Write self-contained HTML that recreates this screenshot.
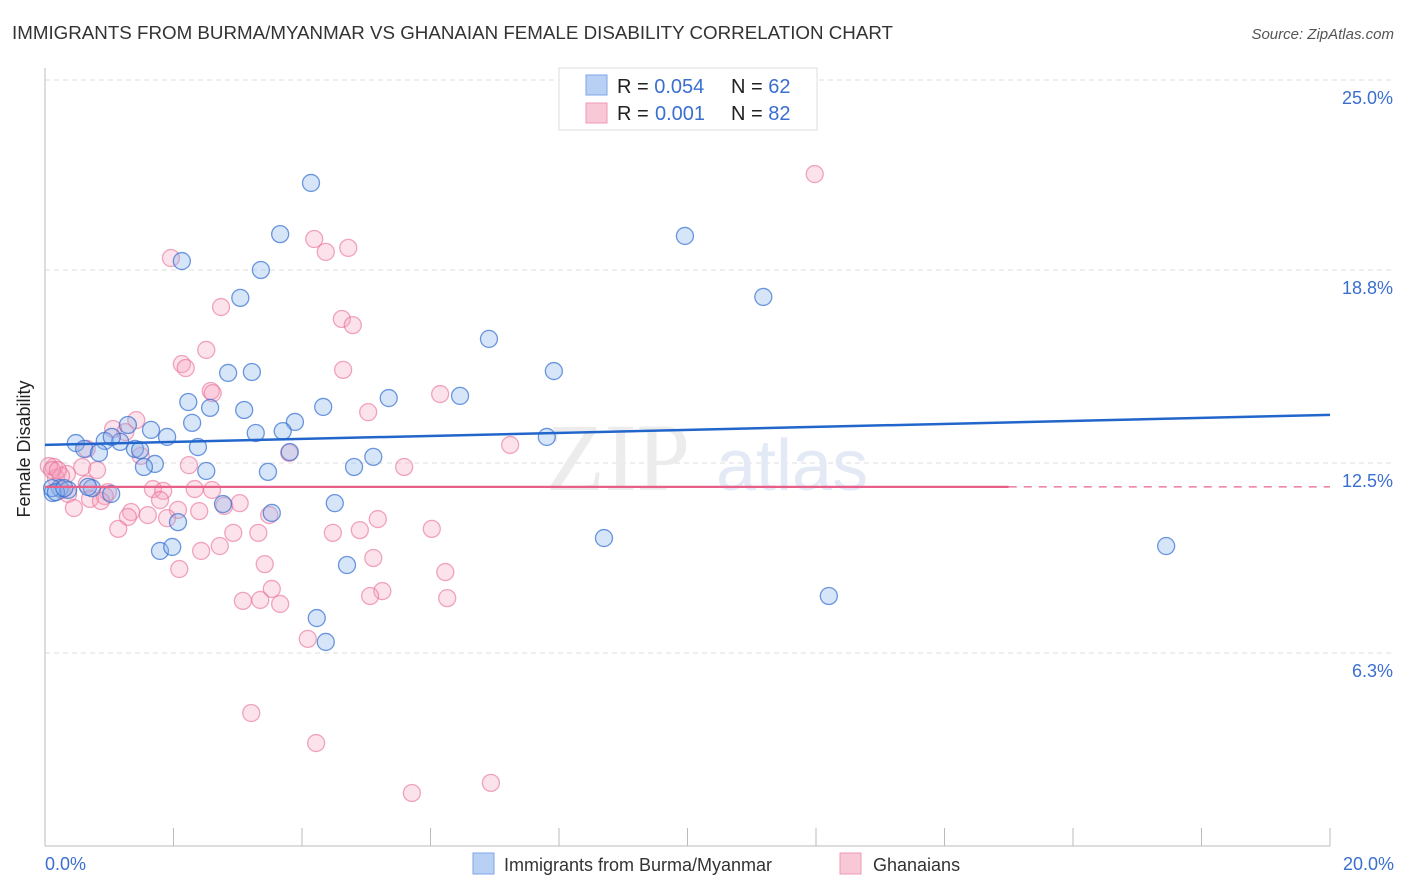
<!DOCTYPE html>
<html><head><meta charset="utf-8"><style>
body{margin:0;background:#fff;font-family:"Liberation Sans",sans-serif;}
svg{display:block}
</style></head><body>
<svg id="chart" width="1406" height="892">
<text x="12" y="39" font-size="18.5" textLength="881" lengthAdjust="spacingAndGlyphs" fill="#333">IMMIGRANTS FROM BURMA/MYANMAR VS GHANAIAN FEMALE DISABILITY CORRELATION CHART</text>
<text x="1394" y="39" font-size="15" fill="#555" font-style="italic" text-anchor="end">Source: ZipAtlas.com</text>
<g id="grid"></g>
<text x="690" y="490" font-size="96" fill="#ececec" text-anchor="end" font-family="Liberation Serif">ZIP</text>
<text x="716" y="490" font-size="72" fill="#e3eaf5">atlas</text>
<line x1="45" y1="68" x2="45" y2="846" stroke="#bbb"/>
<line x1="45" y1="846" x2="1330" y2="846" stroke="#bbb"/>
<g id="ticks"></g>
<text x="36" y="455" font-size="18" fill="#222" text-anchor="middle" transform="rotate(-90 30 455)">Female Disability</text>
<text x="45" y="870" font-size="18" fill="#3a6fd0">0.0%</text>
<text x="1394" y="870" font-size="18" fill="#3a6fd0" text-anchor="end">20.0%</text>
<g id="pts"></g>
<g id="trends"></g>
<g>
<rect x="559" y="68" width="258" height="62" fill="#fff" stroke="#ddd"/>
<rect x="586" y="75" width="21" height="20" fill="#b8d0f3" stroke="#7ea6e8"/>
<rect x="586" y="103" width="21" height="20" fill="#f9c8d6" stroke="#ef9ab4"/>
<text x="617" y="93" font-size="20" fill="#222">R = <tspan fill="#3a6fd0">0.054</tspan><tspan x="731">N = </tspan><tspan fill="#3a6fd0">62</tspan></text>
<text x="617" y="120" font-size="20" fill="#222">R = <tspan x="655" fill="#3a6fd0">0.001</tspan><tspan x="731">N = </tspan><tspan fill="#3a6fd0">82</tspan></text>
</g>
<g>
<rect x="473" y="853" width="21" height="21" fill="#b8d0f3" stroke="#7ea6e8"/>
<text x="504" y="871" font-size="18" fill="#333">Immigrants from Burma/Myanmar</text>
<rect x="840" y="853" width="21" height="21" fill="#f9c8d6" stroke="#ef9ab4"/>
<text x="873" y="871" font-size="18" fill="#333">Ghanaians</text>
</g>
</svg>
<script>
const yTicks=[25.0,18.8,12.5,6.3];
const yTickLabels=["25.0%","18.8%","12.5%","6.3%"];
const xTicks=[2,4,6,8,10,12,14,16,18,20];
const blueX=[4.14,3.66,9.96,2.13,3.36,11.18,3.04,6.91,7.92,2.85,3.22,5.35,6.46,2.23,2.57,3.10,4.33,3.89,2.29,1.29,1.65,3.70,3.28,1.90,7.81,0.93,0.48,1.17,2.38,0.61,0.84,1.40,3.81,5.11,1.71,1.54,4.81,2.51,3.47,0.73,0.23,0.36,0.12,1.03,2.77,4.51,3.53,2.07,8.70,17.45,1.79,1.98,4.70,12.20,4.23,4.37,0.11,0.17,0.30,0.67,1.48,1.04];
const blueY=[21.64,19.97,19.91,19.09,18.80,17.92,17.89,16.55,15.50,15.44,15.47,14.62,14.69,14.49,14.30,14.23,14.33,13.84,13.81,13.74,13.58,13.54,13.48,13.35,13.35,13.22,13.15,13.19,13.02,12.96,12.83,12.96,12.86,12.70,12.47,12.37,12.37,12.24,12.21,11.68,11.68,11.62,11.52,11.49,11.16,11.19,10.87,10.57,10.05,9.79,9.63,9.76,9.17,8.16,7.44,6.66,11.68,11.55,11.68,11.72,12.92,13.35];
const pinkX=[11.98,4.19,4.72,4.37,1.96,2.74,4.62,4.79,2.51,2.13,2.19,4.64,2.58,6.15,5.03,2.61,1.42,1.06,1.25,7.24,3.80,0.65,1.49,0.14,0.58,0.81,2.24,5.59,0.34,0.17,0.25,0.65,1.68,1.84,2.33,2.60,0.98,0.36,0.93,0.70,1.79,2.07,2.40,2.79,3.03,0.45,0.87,1.34,1.29,1.60,1.90,3.49,5.18,4.48,4.90,2.93,3.32,1.14,6.02,2.72,2.43,5.11,3.42,2.09,6.23,3.53,5.25,5.06,3.08,3.35,3.66,6.26,4.09,3.21,4.22,5.71,6.94,0.06,0.11,0.20,0.26];
const pinkY=[21.93,19.81,19.52,19.39,19.19,17.59,17.20,17.00,16.19,15.73,15.60,15.54,14.85,14.75,14.16,14.78,13.90,13.61,13.51,13.09,12.83,12.96,12.73,12.37,12.37,12.27,12.43,12.37,12.14,12.01,12.08,11.81,11.65,11.59,11.65,11.62,11.55,11.49,11.42,11.33,11.29,10.97,10.93,11.10,11.19,11.03,11.26,10.90,10.74,10.80,10.70,10.80,10.67,10.22,10.31,10.22,10.22,10.35,10.35,9.79,9.63,9.40,9.20,9.04,8.94,8.39,8.32,8.16,8.00,8.03,7.90,8.09,6.76,4.34,3.36,1.73,2.06,12.40,12.27,12.27,11.62];
const blueTrend=[13.09,14.07];
const pinkTrend=[11.72,11.72];
const pinkSolidEnd=15.0;
const NS="http://www.w3.org/2000/svg";
const sx=v=>45+v*64.25, sy=v=>846-v*30.64;
function mk(t,a,p){const e=document.createElementNS(NS,t);for(const k in a)e.setAttribute(k,a[k]);p.appendChild(e);return e;}
const grid=document.getElementById('grid');
yTicks.forEach((v,i)=>{
 const l=mk('line',{x1:45,x2:1394,y1:sy(v),y2:sy(v),stroke:'#ddd','stroke-dasharray':'5,4'},grid);
 
 
 const t=mk('text',{x:1393,y:sy(v)+24,'font-size':18,fill:'#3a6fd0','text-anchor':'end'},grid);
 t.textContent=yTickLabels[i];
 
 
});
const tk=document.getElementById('ticks');
xTicks.forEach(v=>{
 const l=mk('line',{x1:sx(v),x2:sx(v),y1:828,y2:846,stroke:'#bbb'},tk);
 
 
});
const pts=document.getElementById('pts');
pinkX.forEach((x,i)=>{
 const c=mk('circle',{cx:sx(x),cy:sy(pinkY[i]),r:8.5,fill:'rgba(246,160,188,0.3)',stroke:'rgba(232,110,150,0.6)','stroke-width':1.3},pts);
 
 
});
blueX.forEach((x,i)=>{
 const c=mk('circle',{cx:sx(x),cy:sy(blueY[i]),r:8.5,fill:'rgba(140,180,235,0.35)',stroke:'rgba(50,110,210,0.7)','stroke-width':1.3},pts);
 
 
});
const tr=document.getElementById('trends');
const b=mk('line',{x1:sx(0),x2:sx(20),y1:sy(blueTrend[0]),y2:sy(blueTrend[1]),stroke:'#2266cc','stroke-width':2.5},tr);


const pe=pinkTrend[0]+(pinkTrend[1]-pinkTrend[0])*pinkSolidEnd/20;
const p1=mk('line',{x1:sx(0),x2:sx(pinkSolidEnd),y1:sy(pinkTrend[0]),y2:sy(pe),stroke:'#e8608a','stroke-width':2.2},tr);


const p2=mk('line',{x1:sx(pinkSolidEnd),x2:sx(20),y1:sy(pe),y2:sy(pinkTrend[1]),stroke:'#e8608a','stroke-width':1.3,'stroke-dasharray':'8,7'},tr);


</script>
</body></html>
